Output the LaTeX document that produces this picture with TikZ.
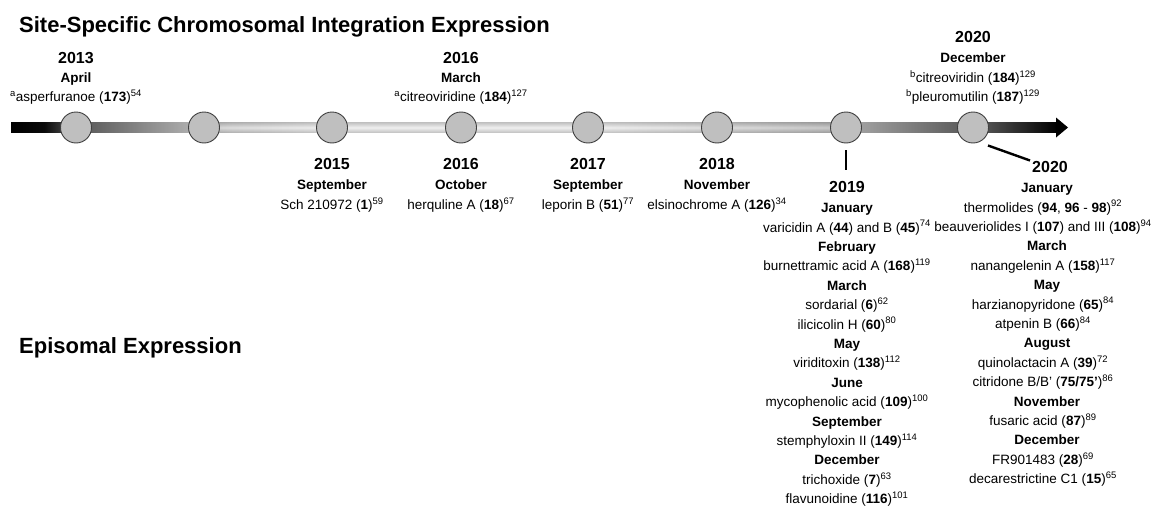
\documentclass[tikz,border=0pt]{standalone}
\usepackage{fontspec}
\setmainfont{Liberation Sans}
\pgfdeclarehorizontalshading{barshade}{100bp}{color(0bp)=(black); color(25bp)=(black); color(26.6bp)=(black!96); color(27.34bp)=(black!80); color(28.87bp)=(black!62); color(33.56bp)=(black!32); color(35.47bp)=(black!20); color(40.25bp)=(black!9); color(53.16bp)=(black!9); color(57.94bp)=(black!18); color(64.15bp)=(black!32); color(66.06bp)=(black!40); color(70.12bp)=(black!62); color(71.8bp)=(black!70); color(75bp)=(black); color(100bp)=(black)}
\tikzset{
  ttl/.style={font=\bfseries\fontsize{22}{25}\selectfont, anchor=base west, inner sep=0pt},
  yr/.style={font=\bfseries\fontsize{16}{18}\selectfont, anchor=base, inner sep=0pt},
  mon/.style={font=\bfseries\fontsize{13.5}{15}\selectfont, anchor=base, inner sep=0pt},
  cmp/.style={font=\fontsize{13.5}{15}\selectfont, anchor=base, inner sep=0pt},
  dot/.style={circle, draw=black!75, fill=black!25, line width=0.9pt, minimum size=31pt, inner sep=0pt},
  ticker/.style={line width=2.4pt},
}
\newcommand{\sps}[1]{\textsuperscript{#1}}
\begin{document}
\begin{tikzpicture}[x=1pt,y=-1pt]
\useasboundingbox (0,0) rectangle (1163,506);
% titles
\node[ttl] (t1) at (19,32) {Site-Specific Chromosomal Integration Expression};
\node[ttl] (t2) at (19,353) {Episomal Expression};
% bar
\shade[shading=barshade] (11,122.5) rectangle (1057,132.5);
\shade[top color=black!50, bottom color=black!50, middle color=white, opacity=0.35] (204,122.5) rectangle (846,132.5);
\fill[black] (1056,117.5) -- (1068,127.5) -- (1056,137.5) -- cycle;
% circles
\node[dot] (c1) at (76,127.5) {};
\node[dot] (c2) at (204,127.5) {};
\node[dot] (c3) at (332,127.5) {};
\node[dot] (c4) at (461,127.5) {};
\node[dot] (c5) at (588,127.5) {};
\node[dot] (c6) at (717,127.5) {};
\node[dot] (c7) at (846,127.5) {};
\node[dot] (c8) at (973,127.5) {};
% upper labels
\node[yr]  (u1y) at (76,63.7) {2013};
\node[mon] (u1m) at (76,82.7) {April};
\node[cmp] (u1c) at (76,101.7) {\sps{a}asperfuranoe (\textbf{173})\sps{54}};
\node[yr]  (u4y) at (461,63.7) {2016};
\node[mon] (u4m) at (461,82.7) {March};
\node[cmp] (u4c) at (461,101.7) {\sps{a}citreoviridine (\textbf{184})\sps{127}};
\node[yr]  (u8y) at (973,42.7) {2020};
\node[mon] (u8m) at (973,62.7) {December};
\node[cmp] (u8c) at (973,82.7) {\sps{b}citreoviridin (\textbf{184})\sps{129}};
\node[cmp] (u8d) at (973,101.7) {\sps{b}pleuromutilin (\textbf{187})\sps{129}};
% lower labels
\node[yr]  (d3y) at (332,169.7) {2015};
\node[mon] (d3m) at (332,189.7) {September};
\node[cmp] (d3c) at (332,209.7) {Sch 210972 (\textbf{1})\sps{59}};
\node[yr]  (d4y) at (461,169.7) {2016};
\node[mon] (d4m) at (461,189.7) {October};
\node[cmp] (d4c) at (461,209.7) {herquline A (\textbf{18})\sps{67}};
\node[yr]  (d5y) at (588,169.7) {2017};
\node[mon] (d5m) at (588,189.7) {September};
\node[cmp] (d5c) at (588,209.7) {leporin B (\textbf{51})\sps{77}};
\node[yr]  (d6y) at (717,169.7) {2018};
\node[mon] (d6m) at (717,189.7) {November};
\node[cmp] (d6c) at (717,209.7) {elsinochrome A (\textbf{126})\sps{34}};
% 2019 column
\node[yr] (l0) at (847,192.7) {2019};
\draw[ticker] ([yshift=-7pt]c7.south) -- ++(0,20);
\node[mon] (l1) at (847,212.7) {January};
\node[cmp] (l2) at (847,232.1) {varicidin A (\textbf{44}) and B (\textbf{45})\sps{74}};
\node[mon] (l3) at (847,251.5) {February};
\node[cmp] (l4) at (847,270.9) {burnettramic acid A (\textbf{168})\sps{119}};
\node[mon] (l5) at (847,290.3) {March};
\node[cmp] (l6) at (847,309.7) {sordarial (\textbf{6})\sps{62}};
\node[cmp] (l7) at (847,329.1) {ilicicolin H (\textbf{60})\sps{80}};
\node[mon] (l8) at (847,348.5) {May};
\node[cmp] (l9) at (847,367.9) {viriditoxin (\textbf{138})\sps{112}};
\node[mon] (l10) at (847,387.3) {June};
\node[cmp] (l11) at (847,406.7) {mycophenolic acid (\textbf{109})\sps{100}};
\node[mon] (l12) at (847,426.1) {September};
\node[cmp] (l13) at (847,445.5) {stemphyloxin II (\textbf{149})\sps{114}};
\node[mon] (l14) at (847,464.9) {December};
\node[cmp] (l15) at (847,484.3) {trichoxide (\textbf{7})\sps{63}};
\node[cmp] (l16) at (847,503.7) {flavunoidine (\textbf{116})\sps{101}};
% 2020 column
\node[yr] (r0) at (1050,172.7) {2020};
\draw[ticker] ([shift={(15,18)}]c8.center) -- ([shift={(57,33)}]c8.center);
\node[mon] (r1) at (1047,192.7) {January};
\node[cmp] (r2) at (1043,212.1) {thermolides (\textbf{94}, \textbf{96} - \textbf{98})\sps{92}};
\node[cmp] (r3) at (1043,231.5) {beauveriolides I (\textbf{107}) and III (\textbf{108})\sps{94}};
\node[mon] (r4) at (1047,250.9) {March};
\node[cmp] (r5) at (1043,270.3) {nanangelenin A (\textbf{158})\sps{117}};
\node[mon] (r6) at (1047,289.7) {May};
\node[cmp] (r7) at (1043,309.1) {harzianopyridone (\textbf{65})\sps{84}};
\node[cmp] (r8) at (1043,328.5) {atpenin B (\textbf{66})\sps{84}};
\node[mon] (r9) at (1047,347.9) {August};
\node[cmp] (r10) at (1043,367.3) {quinolactacin A (\textbf{39})\sps{72}};
\node[cmp] (r11) at (1043,386.7) {citridone B/B{\char"0027} (\textbf{75/75{\char"0027}})\sps{86}};
\node[mon] (r12) at (1047,406.1) {November};
\node[cmp] (r13) at (1043,425.5) {fusaric acid (\textbf{87})\sps{89}};
\node[mon] (r14) at (1047,444.9) {December};
\node[cmp] (r15) at (1043,464.3) {FR901483 (\textbf{28})\sps{69}};
\node[cmp] (r16) at (1043,483.7) {decarestrictine C1 (\textbf{15})\sps{65}};
\end{tikzpicture}
\end{document}
